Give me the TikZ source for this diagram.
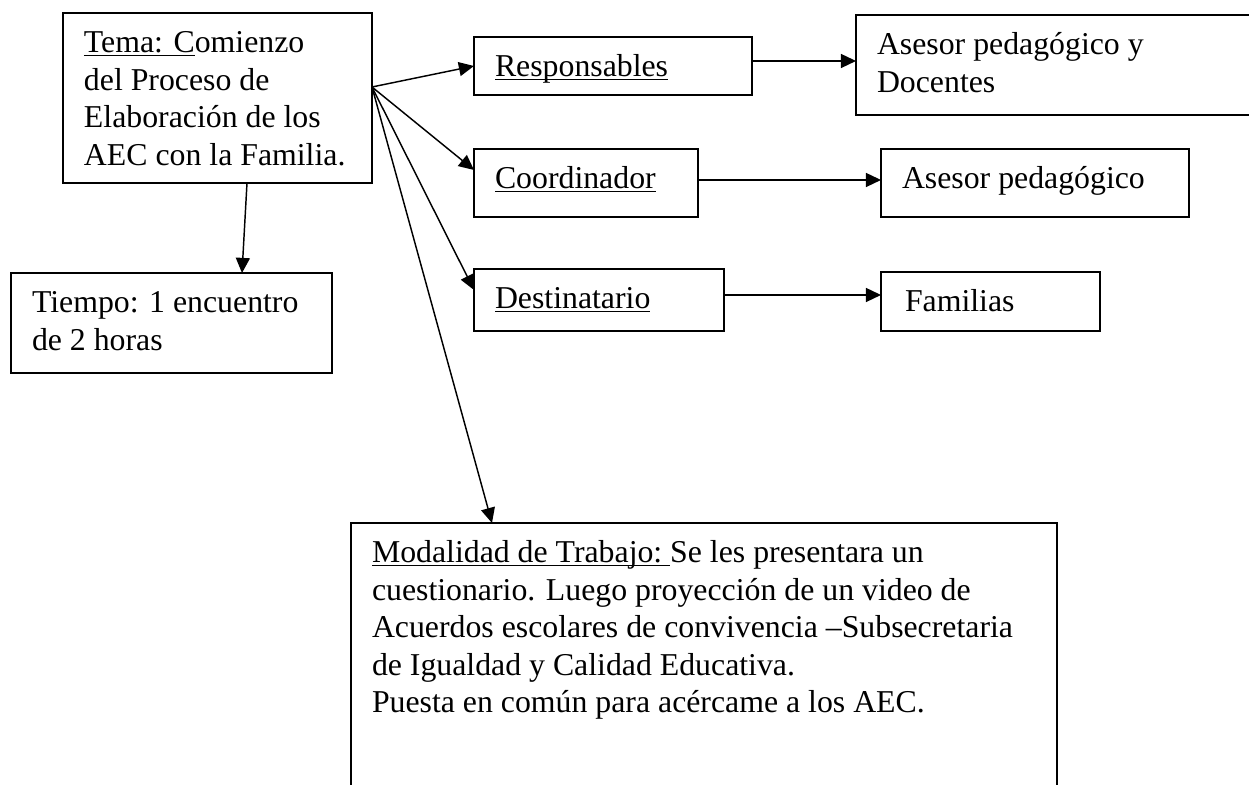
\documentclass[tikz,border=0pt]{standalone}
\usepackage{fontspec}
\setmainfont{Liberation Serif}
\usetikzlibrary{arrows.meta,calc}

\newdimen\px \px=0.37736pt
\newcommand{\subr}[1]{\setbox0\hbox{#1}\rlap{\rule[-3.5\px]{\wd0}{1.3\px}}\box0}
\newcommand{\caja}[3]{\hspace*{21\px}\parbox[t][#2\px][t]{\dimexpr#1\px-21\px\relax}{\raggedright\rule{0pt}{40\px}#3}}

\begin{document}
\begin{tikzpicture}[x=0.37736pt, y=-0.37736pt,
    font=\fontsize{12}{14.15}\selectfont,
    caja/.style={draw, line width=0.5pt, anchor=north west, inner sep=0pt, outer sep=0pt},
    flecha/.style={-{Triangle[length=5.7pt,width=5.3pt]}, line width=0.55pt}]
  \useasboundingbox (0,0) rectangle (1249,785);
  \clip (0,0) rectangle (1249,785);

  % tema y tiempo
  \node[caja] (tema) at (63,13) {\caja{309}{170}{\subr{Tema: C}omienzo\\del Proceso de\\Elaboración de los\\AEC con la Familia.}};
  \node[caja] (tiempo) at (11,273) {\caja{321}{100}{Tiempo: 1 encuentro\\de 2 horas}};

  % columna central
  \node[caja] (resp) at (474,37) {\caja{278}{58}{\subr{Responsables}}};
  \node[caja] (coord) at (474,149) {\caja{224}{68}{\subr{Coordinador}}};
  \node[caja] (dest) at (474,269) {\caja{250}{62}{\subr{Destinatario}}};

  % columna derecha
  \node[caja] (asdoc) at (856,15) {\caja{400}{100}{Asesor pedagógico y\\Docentes}};
  \node[caja] (asped) at (881,149) {\caja{308}{68}{Asesor pedagógico}};
  \node[caja] (fam) at (881,272) {\caja{219}{59}{\hspace*{3\px}Familias}};

  \node[caja] (modal) at (351,523) {\caja{706}{300}{\subr{Modalidad de Trabajo:\ }Se les presentara un\\cuestionario. Luego proyección de un video de\\Acuerdos escolares de convivencia –Subsecretaria\\de Igualdad y Calidad Educativa.\\Puesta en común para acércame a los AEC.}};

  % flechas
  \coordinate (hub) at ($(tema.north east)+(0,74)$);
  \draw[flecha] (hub) -- (resp.west);
  \draw[flecha] (hub) -- ($(coord.west)+(0,-13)$);
  \draw[flecha] (hub) -- ($(dest.west)+(0,-10)$);
  \draw[flecha] (hub) -- ($(modal.north west)+(141,0)$);
  \draw[flecha] ($(tema.south west)+(184,0)$) -- ($(tiempo.north west)+(231,0)$);
  \draw[flecha] ($(resp.east)+(0,-5)$) coordinate (r1) -- (asdoc.west |- r1);
  \draw[flecha] ($(coord.east)+(0,-3)$) coordinate (c1) -- (asped.west |- c1);
  \draw[flecha] ($(dest.east)+(0,-5)$) coordinate (d1) -- (fam.west |- d1);
\end{tikzpicture}
\end{document}
